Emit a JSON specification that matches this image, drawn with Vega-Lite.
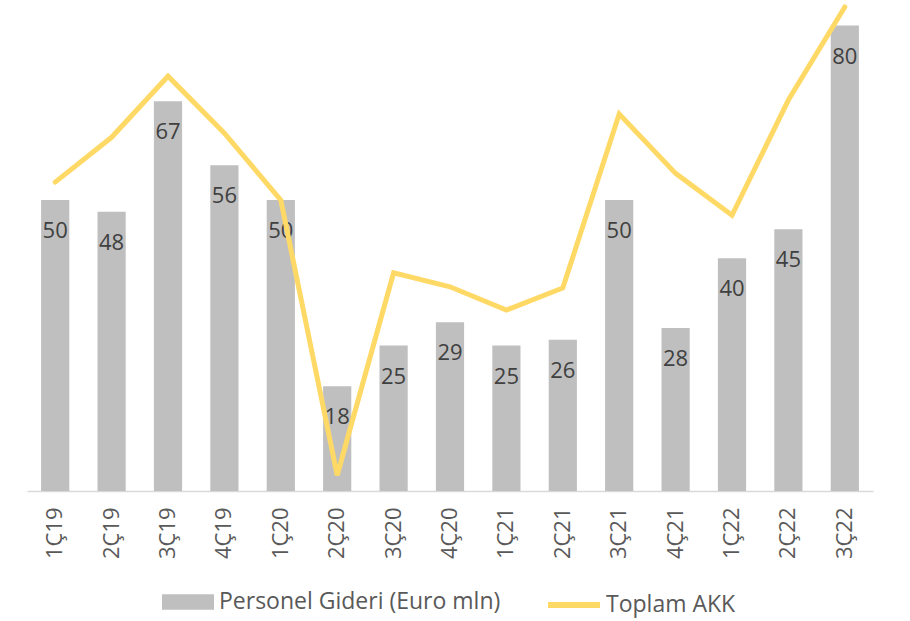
{
  "$schema": "https://vega.github.io/schema/vega-lite/v6.json",
  "width": 846,
  "height": 491,
  "autosize": {"type": "none"},
  "padding": {"left": 27, "top": 0, "right": 37, "bottom": 130},
  "background": "white",
  "config": {"view": {"stroke": null}, "font": "Open Sans"},
  "data": {"values": [
    {"q": "1Ç19", "personel": 50, "akk": 53.1},
    {"q": "2Ç19", "personel": 48, "akk": 60.8},
    {"q": "3Ç19", "personel": 67, "akk": 71.3},
    {"q": "4Ç19", "personel": 56, "akk": 61.5},
    {"q": "1Ç20", "personel": 50, "akk": 50.0},
    {"q": "2Ç20", "personel": 18, "akk": 2.7},
    {"q": "3Ç20", "personel": 25, "akk": 37.5},
    {"q": "4Ç20", "personel": 29, "akk": 35.1},
    {"q": "1Ç21", "personel": 25, "akk": 31.1},
    {"q": "2Ç21", "personel": 26, "akk": 34.9},
    {"q": "3Ç21", "personel": 50, "akk": 64.8},
    {"q": "4Ç21", "personel": 28, "akk": 54.6},
    {"q": "1Ç22", "personel": 40, "akk": 47.4},
    {"q": "2Ç22", "personel": 45, "akk": 67.2},
    {"q": "3Ç22", "personel": 80, "akk": 83.2}
  ]},
  "encoding": {
    "x": {
      "field": "q", "type": "nominal", "sort": null,
      "scale": {"paddingInner": 0.5, "paddingOuter": 0.25},
      "axis": {
        "title": null, "labelAngle": -90, "labelFontSize": 22, "labelColor": "#595959",
        "labelPadding": 16, "ticks": false, "domainColor": "#D9D9D9", "domainWidth": 1.5,
        "labelBaseline": "middle", "labelAlign": "right"
      }
    }
  },
  "layer": [
    {
      "mark": {"type": "bar", "color": "#BFBFBF"},
      "encoding": {
        "y": {"field": "personel", "type": "quantitative", "scale": {"domain": [0, 84.4], "nice": false}, "axis": null},
        "fill": {
          "datum": "Personel Gideri (Euro mln)", "type": "nominal",
          "scale": {"range": ["#BFBFBF"]},
          "legend": {
            "title": null, "orient": "none", "legendX": 135, "legendY": 576, "padding": 0,
            "symbolType": "M-1,-0.3H1V0.3H-1Z", "symbolSize": 2704, "symbolStrokeWidth": 0,
            "labelFontSize": 23, "labelColor": "#595959", "labelOffset": 5, "labelLimit": 500
          }
        }
      }
    },
    {
      "mark": {"type": "text", "dy": 31, "baseline": "middle", "fontSize": 22, "color": "#404040"},
      "encoding": {
        "y": {"field": "personel", "type": "quantitative"},
        "text": {"field": "personel", "type": "quantitative"}
      }
    },
    {
      "mark": {"type": "line", "strokeWidth": 5, "strokeCap": "round", "strokeJoin": "miter"},
      "encoding": {
        "y": {"field": "akk", "type": "quantitative"},
        "stroke": {
          "datum": "Toplam AKK", "type": "nominal",
          "scale": {"range": ["#FFD966"]},
          "legend": {
            "title": null, "orient": "none", "legendX": 518, "legendY": 576, "padding": 0,
            "symbolType": "stroke", "symbolSize": 2704, "symbolStrokeWidth": 6,
            "labelFontSize": 23, "labelColor": "#595959", "labelOffset": 3, "labelLimit": 500
          }
        }
      }
    }
  ]
}
